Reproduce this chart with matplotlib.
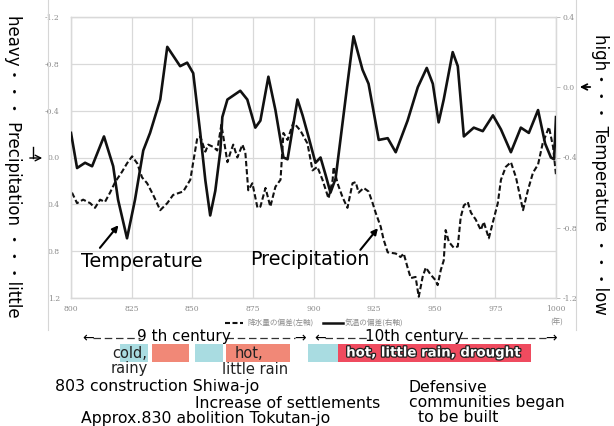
import matplotlib
matplotlib.use('Agg')
import matplotlib.pyplot as plt
import matplotlib.transforms as mtransforms
import matplotlib.patheffects as pe
from matplotlib.lines import Line2D
from matplotlib.patches import Rectangle

# ---------------- data ----------------
temp_years = [800, 802.5, 805.8, 808.7, 813.6, 817.4, 819.4, 823.1, 826.4, 829.8,
              832.6, 836.8, 839.7, 845.0, 847.9, 850.4, 853.3, 855.4, 857.4, 859.5,
              861.6, 862.4, 864.5, 869.8, 872.7, 876.0, 878.1, 881.4, 884.3, 887.6,
              889.3, 891.7, 893.4, 895.5, 897.9, 900.8, 902.9, 905.0, 907.0, 909.1,
              911.1, 914.0, 916.5, 920.2, 922.7, 926.9, 930.6, 933.9, 938.8, 943.0,
              946.7, 949.2, 951.6, 953.7, 957.4, 959.5, 962.0, 966.1, 969.8, 974.0,
              977.3, 981.4, 985.5, 988.8, 992.6, 995.5, 997.9, 999.2, 1000]
temp_values = [-0.26, -0.46, -0.43, -0.45, -0.28, -0.45, -0.64, -0.86, -0.64, -0.36,
               -0.26, -0.07, 0.23, 0.12, 0.14, 0.08, -0.26, -0.53, -0.73, -0.59,
               -0.36, -0.17, -0.07, -0.02, -0.07, -0.23, -0.19, 0.06, -0.13, -0.40,
               -0.41, -0.21, -0.07, -0.16, -0.28, -0.43, -0.40, -0.50, -0.60, -0.52,
               -0.30, 0.02, 0.29, 0.10, 0.02, -0.30, -0.29, -0.37, -0.19, 0.00,
               0.11, 0.02, -0.20, -0.07, 0.20, 0.12, -0.28, -0.23, -0.25, -0.16,
               -0.24, -0.37, -0.23, -0.26, -0.13, -0.32, -0.40, -0.41, -0.17]

precip_years = [800.4, 802.5, 805.0, 807.9, 809.9, 812.0, 814.0, 816.1, 818.2, 821.1,
                823.1, 825.2, 827.3, 829.3, 831.4, 833.9, 836.8, 839.7, 842.1, 846.3,
                849.2, 850.4, 852.1, 853.3, 855.4, 856.6, 858.7, 860.3, 862.0, 862.8,
                864.5, 865.7, 866.9, 868.6, 870.7, 871.9, 873.1, 874.8, 876.9, 878.1,
                880.2, 882.2, 884.3, 886.4, 887.6, 889.3, 891.7, 894.6, 897.5, 899.6,
                901.6, 903.7, 906.2, 907.9, 908.3, 909.9, 912.0, 914.0, 916.1, 917.4,
                918.6, 920.7, 922.7, 924.4, 925.6, 927.7, 928.9, 930.6, 933.9, 935.9,
                937.2, 938.8, 940.1, 942.1, 943.4, 945.0, 946.3, 948.3, 950.4, 951.2,
                952.5, 953.7, 954.5, 955.8, 957.8, 959.5, 960.7, 962.0, 963.6, 964.9,
                966.9, 969.0, 970.2, 972.3, 974.0, 976.0, 977.3, 979.3, 981.4, 983.5,
                986.4, 988.4, 990.5, 992.6, 994.5, 997.1, 998.8, 1000]
precip_values = [0.30, 0.39, 0.36, 0.39, 0.43, 0.36, 0.38, 0.30, 0.21, 0.12,
                 0.05, -0.01, 0.05, 0.17, 0.22, 0.32, 0.45, 0.39, 0.32, 0.29,
                 0.19, 0.04, -0.17, -0.18, -0.05, -0.11, -0.09, -0.06, -0.28, -0.18,
                 0.04, -0.04, -0.11, 0.00, -0.11, -0.04, 0.28, 0.22, 0.43, 0.42,
                 0.26, 0.42, 0.25, 0.19, -0.21, -0.15, -0.30, -0.23, -0.12, 0.11,
                 0.08, 0.19, 0.35, 0.19, 0.08, 0.22, 0.34, 0.43, 0.22, 0.21,
                 0.30, 0.26, 0.29, 0.39, 0.47, 0.59, 0.70, 0.81, 0.82, 0.85,
                 0.82, 0.94, 1.03, 1.02, 1.19, 1.02, 0.94, 1.00, 1.05, 1.09,
                 0.96, 0.88, 0.62, 0.72, 0.77, 0.76, 0.51, 0.41, 0.38, 0.47,
                 0.53, 0.62, 0.55, 0.69, 0.55, 0.39, 0.19, 0.08, 0.04, 0.17,
                 0.45, 0.28, 0.13, 0.06, -0.12, -0.26, -0.09, 0.15]

x_ticks = [800, 825, 850, 875, 900, 925, 950, 975, 1000]
left_ticks = [-1.2, -0.8, -0.4, 0.0, 0.4, 0.8, 1.2]
right_ticks = [0.4, 0.0, -0.4, -0.8, -1.2]

period_start = [820, 833.5, 851.2, 864.0, 897.9, 909.9]
period_end = [831.8, 848.8, 862.8, 890.5, 909.9, 989.7]
period_kind = ['cold', 'hot', 'cold', 'hot', 'cold', 'drought']

legend_precip = '降水量の偏差(左軸)'
legend_temp = '気温の偏差(右軸)'

# ---------------- figure ----------------
W, H = 614, 426
fig = plt.figure(figsize=(W / 100, H / 100), dpi=100)
fig.patch.set_facecolor('white')
ax = fig.add_axes([71 / W, 1 - 298 / H, (556 - 71) / W, (298 - 17) / H])
ax2 = ax.twinx()

pix = mtransforms.Affine2D().scale(1 / W, -1 / H).translate(0, 1) + fig.transFigure
blend = mtransforms.blended_transform_factory(ax.transData, pix)

grid_c = '#d9d9d9'
tick_c = '#8c8c8c'

ax.set_xlim(800, 1000)
ax.set_ylim(1.2, -1.2)
ax2.set_ylim(-1.2, 0.4)
ax.set_xticks(x_ticks)
ax.set_yticks(left_ticks)
ax.set_yticklabels(['-1.2', '-0.8', '-0.4', '0.0', '0.4', '0.8', '1.2'])
ax2.set_yticks(right_ticks)
ax2.set_yticklabels(['0.4', '0.0', '-0.4', '-0.8', '-1.2'])
ax.grid(True, color=grid_c, lw=0.9)
ax.set_axisbelow(True)
for a in (ax, ax2):
    for s in a.spines.values():
        s.set_color(grid_c)
        s.set_linewidth(0.9)
ax.tick_params(axis='x', length=0, pad=5, labelsize=5.5, labelcolor=tick_c)
ax.tick_params(axis='y', length=0, pad=8, labelsize=5.5, labelcolor=tick_c)
ax2.tick_params(axis='y', length=3, width=0.7, color='#bfbfbf', pad=2,
                labelsize=5.5, labelcolor=tick_c)
for lab in ax.get_xticklabels() + ax.get_yticklabels() + ax2.get_yticklabels():
    lab.set_family('DejaVu Serif')

ax.plot(precip_years, precip_values, color='#111111', lw=1.5,
        linestyle=(0, (2.6, 1.3)), zorder=3)
ax2.plot(temp_years, temp_values, color='#111111', lw=1.9, zorder=4,
         solid_joinstyle='round')

# in-plot labels and arrows
ax.text(829.0, 0.89, 'Temperature', fontsize=13.8, ha='center', va='center')
ax.annotate('', xy=(820.3, 0.56), xytext=(811.2, 0.79),
            arrowprops=dict(arrowstyle='-|>', color='black', lw=1.5,
                            mutation_scale=9))
ax.text(898.5, 0.875, 'Precipitation', fontsize=13.8, ha='center', va='center')
ax.annotate('', xy=(927.3, 0.585), xytext=(918.6, 0.807),
            arrowprops=dict(arrowstyle='-|>', color='black', lw=1.5,
                            mutation_scale=9))

# legend (below axis)
fig.add_artist(Line2D([225, 243], [323, 323], transform=pix, color='#111111',
                      lw=1.5, linestyle=(0, (2.4, 1.2))))
fig.text(247, 323, legend_precip, transform=pix, fontsize=5.5, color=tick_c,
         va='center', ha='left', family=['Noto Sans CJK JP'])
fig.add_artist(Line2D([323, 343], [323, 323], transform=pix, color='#111111', lw=1.8))
fig.text(345, 323, legend_temp, transform=pix, fontsize=5.5, color=tick_c,
         va='center', ha='left', family=['Noto Sans CJK JP'])
fig.text(557, 323, '(年)', transform=pix, fontsize=5.5, color=tick_c,
         va='center', ha='center', family=['Noto Sans CJK JP'])

# frame lines of original chart picture
fig.add_artist(Line2D([48, 48], [0, 330], transform=pix, color='#d6d6d6', lw=0.8))
fig.add_artist(Line2D([576, 576], [0, 330], transform=pix, color='#d6d6d6', lw=0.8))

# side labels
fig.text(13, 166, 'heavy・・・ Precipitation ・・・little', transform=pix,
         rotation=-90, fontsize=12, ha='center', va='center',
         family=['DejaVu Sans', 'Noto Sans CJK JP'])
fig.text(600, 174, 'high・・・ Temperature ・・・low', transform=pix,
         rotation=-90, fontsize=12, ha='center', va='center',
         family=['DejaVu Sans', 'Noto Sans CJK JP'])
fig.add_artist(Line2D([33, 33], [147, 158], transform=pix, color='black', lw=1.0))
ax.annotate('', xy=(45, 158), xytext=(27, 158), xycoords=pix, textcoords=pix,
            arrowprops=dict(arrowstyle='->', color='black', lw=1.0))
ax.annotate('', xy=(577, 87), xytext=(593, 87), xycoords=pix, textcoords=pix,
            arrowprops=dict(arrowstyle='->', color='black', lw=1.3))

# century markers
CY = 338
def century(x0, x1, t0, t1, label, tx):
    fig.text(x0, CY, '←', transform=blend, fontsize=10, ha='left', va='center')
    fig.text(x1, CY, '→', transform=blend, fontsize=10, ha='right', va='center')
    fig.add_artist(Line2D([x0 + 4.5, t0], [CY, CY], transform=blend,
                          color='#333333', lw=0.9, linestyle=(0, (6, 3))))
    fig.add_artist(Line2D([t1, x1 - 4.5], [CY, CY], transform=blend,
                          color='#333333', lw=0.9, linestyle=(0, (6, 3))))
    fig.text(tx, CY - 1, label, transform=blend, fontsize=11, ha='center',
             va='center')

century(804.5, 896.7, 828.5, 864.0, '9 th century', 846.5)
century(900.3, 1000.2, 922.0, 960.5, '10th century', 941.5)

colors = {'cold': '#a9dce1', 'hot': '#f18877', 'drought': '#ef4b5f'}
for s, e, k in zip(period_start, period_end, period_kind):
    fig.add_artist(Rectangle((s, 344), e - s, 18, transform=blend,
                             facecolor=colors[k], edgecolor='none', zorder=1))

fig.text(824.0, 353, 'cold,', transform=blend, fontsize=10.5, ha='center',
         va='center', color='#222222', zorder=5)
fig.text(824.0, 369, 'rainy', transform=blend, fontsize=10.5, ha='center',
         va='center', color='#222222', zorder=5)
fig.text(873.5, 353, 'hot,', transform=blend, fontsize=10.5, ha='center',
         va='center', color='#222222', zorder=5)
fig.text(876.0, 369, 'little rain', transform=blend, fontsize=10.5, ha='center',
         va='center', color='#222222', zorder=5)
fig.text(949.5, 353, 'hot, little rain, drought', transform=blend, fontsize=9.6,
         ha='center', va='center', color='white', fontweight='bold', zorder=5,
         path_effects=[pe.withStroke(linewidth=1.8, foreground='#222222')])

FS = 11.3
fig.text(55, 386, '803 construction Shiwa-jo', transform=pix, fontsize=FS,
         ha='left', va='center')
fig.text(195, 403, 'Increase of settlements', transform=pix, fontsize=FS,
         ha='left', va='center')
fig.text(81, 418, 'Approx.830 abolition Tokutan-jo', transform=pix, fontsize=FS,
         ha='left', va='center')
fig.text(409, 387, 'Defensive', transform=pix, fontsize=FS, ha='left', va='center')
fig.text(409, 403, 'communities began', transform=pix, fontsize=FS,
         ha='left', va='center')
fig.text(418, 418, 'to be built', transform=pix, fontsize=FS, ha='left', va='center')

fig.savefig('out.png', dpi=100, facecolor='white')
